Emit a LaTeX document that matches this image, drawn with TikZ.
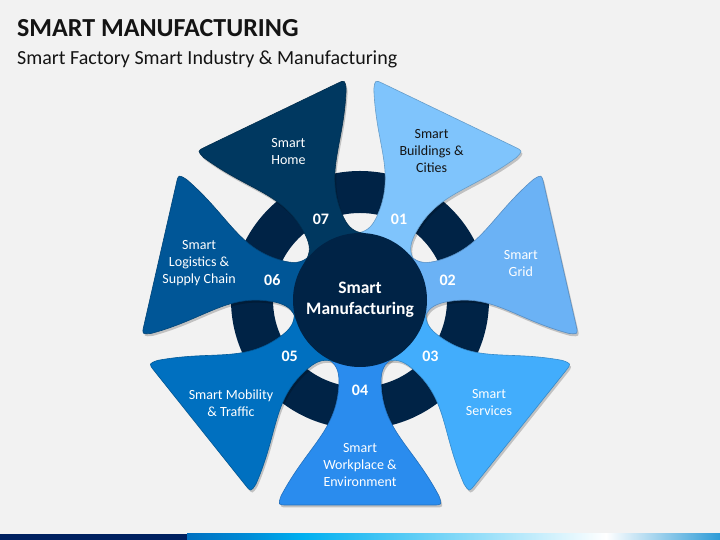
\documentclass[tikz,border=0pt]{standalone}
\usepackage{fontspec}
\setmainfont{Carlito}
\usepackage{tikz}
\usetikzlibrary{positioning}

\definecolor{bggray}{RGB}{242,242,242}
\definecolor{hubnavy}{RGB}{0,35,70}
\definecolor{ink}{RGB}{20,20,20}
\definecolor{pone}{RGB}{127,196,252}
\definecolor{ptwo}{RGB}{107,178,245}
\definecolor{pthree}{RGB}{66,173,252}
\definecolor{pfour}{RGB}{42,140,238}
\definecolor{pfive}{RGB}{0,112,192}
\definecolor{psix}{RGB}{0,86,151}
\definecolor{pseven}{RGB}{0,56,96}
\definecolor{barnavy}{RGB}{0,32,96}
\definecolor{barA}{RGB}{0,112,192}
\definecolor{barB}{RGB}{0,140,215}
\definecolor{barC}{RGB}{0,176,240}
\definecolor{barD}{RGB}{45,155,215}

\tikzset{
  petal/.pic={
    \path[pic actions] (58,-33) .. controls (64,-24) and (70,-21) .. (82,-21)
      .. controls (130,-22) and (145,-52) .. (196,-79)
      .. controls (205,-82) .. (205,-73) -- (205,73)
      .. controls (205,82) .. (196,79)
      .. controls (145,52) and (130,22) .. (82,21)
      .. controls (70,21) and (64,24) .. (58,33) -- cycle;
  }
}

\begin{document}
\begin{tikzpicture}[x=1pt, y=1pt,
  num/.style={font=\bfseries\fontsize{16}{18}\selectfont, text=white, inner sep=0pt},
  lbl/.style={font=\fontsize{14}{17}\selectfont, align=center, inner sep=0pt},
  hubtext/.style={font=\bfseries\fontsize{17.5}{21.5}\selectfont, text=white, align=center}
]
\fill[bggray] (0,0) rectangle (720,540);

% title
\node[anchor=base west, inner sep=0pt, text=ink, font=\bfseries\fontsize{26}{30}\selectfont]
  (title) at (17,503) {SMART MANUFACTURING};
\node[anchor=base west, inner sep=0pt, text=ink, font=\fontsize{20}{24}\selectfont]
  (subtitle) at (17,475) {Smart Factory Smart Industry \& Manufacturing};

% wheel
\coordinate (c) at (360,240);
\fill[hubnavy, even odd rule] (c) circle (129pt) (c) circle (87pt);

\foreach \a in {64.29,12.86,-38.57,-90,-141.43,-192.86,-244.29}
  \pic[shift={(1.5,-2.5)}, rotate=\a, fill=black, fill opacity=0.2] at (c) {petal};

\foreach \a/\c/\n/\t/\tc in {
    64.29/pone/01/{Smart\\Buildings \&\\Cities}/ink,
    12.86/ptwo/02/{Smart\\Grid}/white,
    -38.57/pthree/03/{Smart\\Services}/white,
    -90/pfour/04/{Smart\\Workplace \&\\Environment}/white,
    -141.43/pfive/05/{Smart Mobility\\\& Traffic}/white,
    -192.86/psix/06/{Smart\\Logistics \&\\Supply Chain}/white,
    -244.29/pseven/07/{Smart\\Home}/white}{
  \pic[rotate=\a, fill=\c, draw=\c!80!black, line width=0.6pt] at (c) {petal};
  \node[num] (num\n) at ([shift={(\a:90pt)}]c) {\n};
  \node[lbl, text=\tc] (lbl\n) at ([shift={(\a:165pt)}]c) {\t};
}

\node[circle, fill=hubnavy, minimum size=134pt, inner sep=0pt, hubtext] (hub) at (c)
  {Smart\\Manufacturing};

% bottom bar
\fill[barnavy] (0,0) rectangle (187,6);
\shade[left color=barA, right color=barB] (187,0) rectangle (248,6);
\shade[left color=barB, right color=barC] (248,0) rectangle (303,6);
\shade[left color=barC, right color=white] (303,0) rectangle (606,6);
\shade[left color=white, right color=barD] (606,0) rectangle (720,6);
\end{tikzpicture}
\end{document}
